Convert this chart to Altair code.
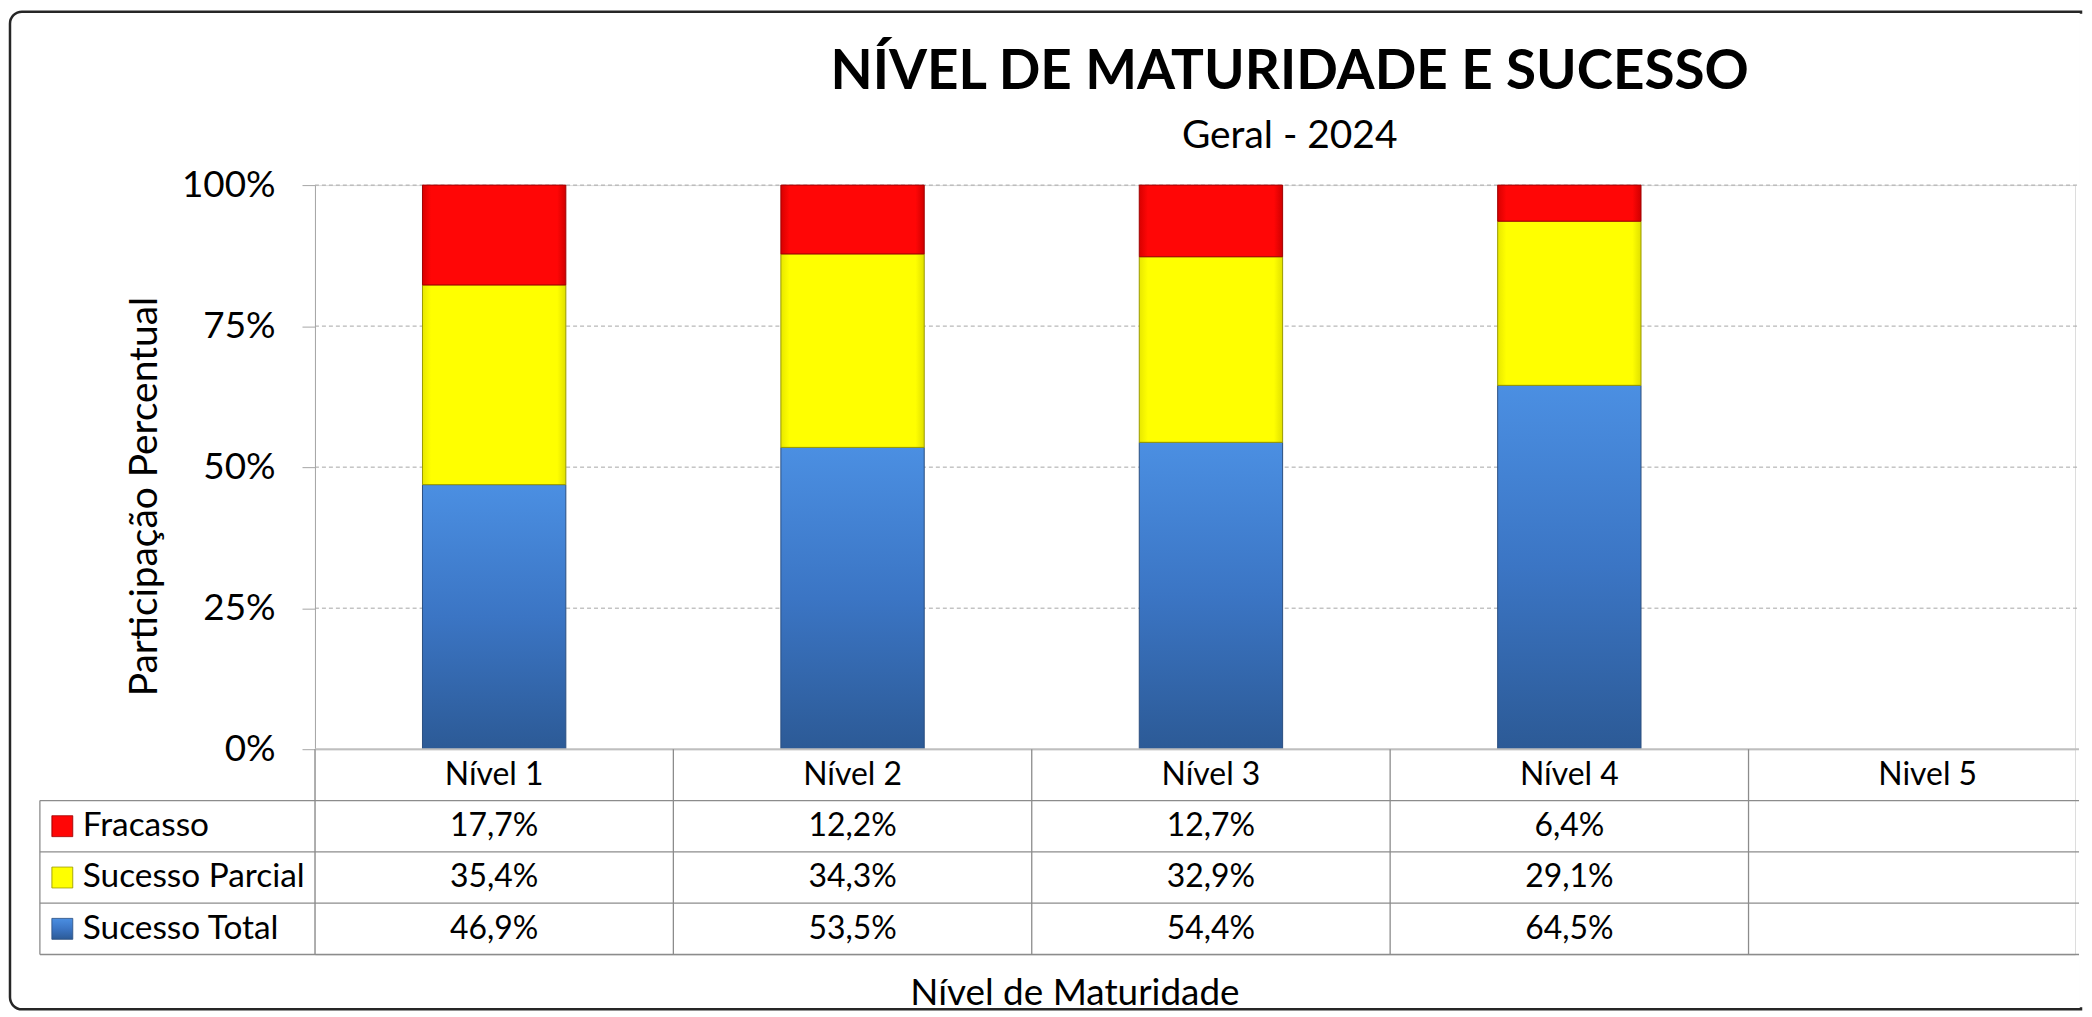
import altair as alt
import pandas as pd

# ---------------- data ----------------
levels = ["Nível 1", "Nível 2", "Nível 3", "Nível 4", "Nivel 5"]
series = ["Fracasso", "Sucesso Parcial", "Sucesso Total"]
fracasso = [17.7, 12.2, 12.7, 6.4, None]
sucesso_parcial = [35.4, 34.3, 32.9, 29.1, None]
sucesso_total = [46.9, 53.5, 54.4, 64.5, None]
y_ticks = [0, 25, 50, 75, 100]

title_text = "NÍVEL DE MATURIDADE E SUCESSO"
subtitle_text = "Geral - 2024"
y_title = "Participação Percentual"
x_title = "Nível de Maturidade"

# ---------------- layout (pixels) ----------------
FONT = "Lato"
COL = 359.6          # width of one category column
PLOT_W = 1766
BAR_H = 566
ROW_H = 51.5
N_ROWS = 4
TABLE_H = ROW_H * N_ROWS
LABEL_COL = 276      # legend column left of the plot
RIGHT_EXT = 6        # frame reaches this far right of the plot
X_MIN = 0.5
X_MAX = X_MIN + PLOT_W / COL
BAR_FRAC = 0.4
GRID = "#a6a6a6"
TLINE = "#8c8c8c"


def xu(px):
    """pixel offset from plot's left edge -> x scale units"""
    return X_MIN + px / COL


rows = []
for i, lv in enumerate(levels):
    for s, vals in zip(series, [fracasso, sucesso_parcial, sucesso_total]):
        rows.append({"level": lv, "idx": i + 1, "series": s, "value": vals[i]})
df = pd.DataFrame(rows)
lev_df = pd.DataFrame({"level": levels, "idx": list(range(1, len(levels) + 1))})
ser_df = pd.DataFrame({"series": series})
tick_df = pd.DataFrame({"v": y_ticks})

series_js = "['" + "','".join(series) + "']"

xscale = alt.Scale(domain=[X_MIN, X_MAX], nice=False, zero=False)
yscale = alt.Scale(domain=[0, 100], nice=False)
tscale = alt.Scale(domain=[0, N_ROWS], nice=False, zero=False, reverse=True)

blue = alt.LinearGradient(
    gradient="linear",
    stops=[alt.GradientStop(color="#4b8fe2", offset=0),
           alt.GradientStop(color="#3b75c4", offset=0.5),
           alt.GradientStop(color="#2c5a96", offset=1)],
    x1=0, x2=0, y1=0, y2=1)
red = alt.LinearGradient(
    gradient="linear",
    stops=[alt.GradientStop(color="#d80000", offset=0),
           alt.GradientStop(color="#ff0606", offset=0.06),
           alt.GradientStop(color="#ff0606", offset=0.94),
           alt.GradientStop(color="#d00000", offset=1)],
    x1=0, x2=1, y1=0, y2=0)
yellow = alt.LinearGradient(
    gradient="linear",
    stops=[alt.GradientStop(color="#e8e800", offset=0),
           alt.GradientStop(color="#ffff00", offset=0.06),
           alt.GradientStop(color="#ffff00", offset=0.94),
           alt.GradientStop(color="#e0e000", offset=1)],
    x1=0, x2=1, y1=0, y2=0)
fills = {"Fracasso": (red, "#a00000"),
         "Sucesso Parcial": (yellow, "#9a9a00"),
         "Sucesso Total": (blue, "#2a4e7f")}

# ---------------- bar chart ----------------
yaxis = alt.Axis(values=y_ticks, labelExpr="datum.value + '%'",
                 labelFont=FONT, labelFontSize=37, labelColor="black",
                 labelPadding=27, tickSize=13, tickColor=GRID,
                 domainColor=GRID, grid=False,
                 title=y_title, titleFont=FONT, titleFontSize=39,
                 titleFontWeight="normal", titleColor="black", titlePadding=17,
                 titleY=312, titleAlign="center")

gridlines = alt.Chart(tick_df).transform_filter("datum.v > 0").transform_calculate(
    xa=f"{X_MIN}", xb=f"{xu(PLOT_W + RIGHT_EXT)}").mark_rule(
    color=GRID, strokeWidth=1, strokeDash=[4, 3]).encode(
    x=alt.X("xa:Q", scale=xscale, axis=None), x2="xb:Q",
    y=alt.Y("v:Q", scale=yscale, axis=yaxis))

bar_base = alt.Chart(df).transform_filter("isValid(datum.value)").transform_calculate(
    order="indexof(['Sucesso Total','Sucesso Parcial','Fracasso'], datum.series)",
    xa=f"datum.idx - {BAR_FRAC / 2}",
    xb=f"datum.idx + {BAR_FRAC / 2}",
).transform_stack(stack="value", groupby=["level"],
                  sort=[alt.SortField("order", order="ascending")], as_=["v0", "v1"])

bar_layers = []
for s in ["Sucesso Total", "Sucesso Parcial", "Fracasso"]:
    f, st = fills[s]
    bar_layers.append(
        bar_base.transform_filter(alt.datum.series == s)
        .mark_rect(fill=f, stroke=st, strokeWidth=1)
        .encode(x=alt.X("xa:Q", scale=xscale, axis=None), x2="xb:Q",
                y=alt.Y("v0:Q", scale=yscale, axis=yaxis), y2="v1:Q")
    )

title_mark = alt.Chart(pd.DataFrame({"t": [title_text]})).mark_text(
    font=FONT, fontSize=55, fontWeight="bold", color="black",
    align="center", baseline="alphabetic").encode(
    x=alt.value(978), y=alt.value(-96), text="t:N")
subtitle_mark = alt.Chart(pd.DataFrame({"t": [subtitle_text]})).mark_text(
    font=FONT, fontSize=39, color="black",
    align="center", baseline="alphabetic").encode(
    x=alt.value(978), y=alt.value(-37), text="t:N")

bars = alt.layer(gridlines, *bar_layers, title_mark, subtitle_mark).properties(
    width=PLOT_W, height=BAR_H)

# ---------------- data table ----------------
xaxis_t = alt.Axis(labels=False, ticks=False, domain=False, grid=False,
                   title=x_title, titleFont=FONT, titleFontSize=37,
                   titleFontWeight="normal", titleColor="black",
                   titleX=762, titleY=50, titleAlign="center",
                   titleBaseline="alphabetic")


def X(field):
    return alt.X(field, scale=xscale, axis=xaxis_t)


def Y(field):
    return alt.Y(field, scale=tscale, axis=None)


top_line = alt.Chart(pd.DataFrame({"y": [0]})).transform_calculate(
    xa=f"{X_MIN}", xb=f"{xu(PLOT_W + RIGHT_EXT)}").mark_rule(color="#bfbfbf", strokeWidth=2).encode(
    x=X("xa:Q"), x2="xb:Q", y=Y("y:Q"))

row_lines = alt.Chart(pd.DataFrame({"y": list(range(1, N_ROWS + 1))})).transform_calculate(
    xa=f"{xu(-LABEL_COL)}", xb=f"{xu(PLOT_W + RIGHT_EXT)}").mark_rule(color=TLINE, strokeWidth=1.3).encode(
    x=X("xa:Q"), x2="xb:Q", y=Y("y:Q"))

col_lines = alt.Chart(lev_df).transform_calculate(
    xa="datum.idx - 0.5", ya="0", yb=f"{N_ROWS}").mark_rule(color=TLINE, strokeWidth=1.3).encode(
    x=X("xa:Q"), y=Y("ya:Q"), y2="yb:Q")

left_border = alt.Chart(pd.DataFrame({"a": [0]})).transform_calculate(
    xa=f"{xu(-LABEL_COL)}", ya="1", yb=f"{N_ROWS}").mark_rule(color=TLINE, strokeWidth=1.3).encode(
    x=X("xa:Q"), y=Y("ya:Q"), y2="yb:Q")

header_txt = alt.Chart(lev_df).transform_calculate(ya="0.5").mark_text(
    font=FONT, fontSize=32, color="black", align="center", baseline="middle").encode(
    x=X("idx:Q"), y=Y("ya:Q"), text="level:N")

value_txt = alt.Chart(df).transform_filter("isValid(datum.value)").transform_calculate(
    ya=f"indexof({series_js}, datum.series) + 1.5",
    lbl="replace(format(datum.value, '.1f'), '.', ',') + '%'").mark_text(
    font=FONT, fontSize=32, color="black", align="center", baseline="middle").encode(
    x=X("idx:Q"), y=Y("ya:Q"), text="lbl:N")

label_txt = alt.Chart(ser_df).transform_calculate(
    ya=f"indexof({series_js}, datum.series) + 1.5", xa=f"{xu(-233)}").mark_text(
    font=FONT, fontSize=33.5, color="black", align="left", baseline="middle").encode(
    x=X("xa:Q"), y=Y("ya:Q"), text="series:N")

swatches = []
for s in series:
    f, st = fills[s]
    swatches.append(
        alt.Chart(ser_df).transform_filter(alt.datum.series == s).transform_calculate(
            ya=f"indexof({series_js}, datum.series) + 1.5", xa=f"{xu(-253.5)}")
        .mark_square(size=441, fill=f, stroke=st, strokeWidth=0.8, opacity=1, filled=True)
        .encode(x=X("xa:Q"), y=Y("ya:Q"))
    )

# decorative chart-area border (continues past the right edge, as in the original)
frame = alt.Chart(pd.DataFrame({"a": [0]})).mark_rect(
    fill="white", fillOpacity=0, stroke="#262626", strokeWidth=2.5,
    cornerRadiusTopLeft=12, cornerRadiusBottomLeft=12).encode(
    x=alt.value(-306), x2=alt.value(PLOT_W + RIGHT_EXT),
    y=alt.value(-740), y2=alt.value(261))
frame_cut = alt.Chart(pd.DataFrame({"a": [0]})).mark_rule(
    color="white", strokeWidth=4).encode(
    x=alt.value(PLOT_W + RIGHT_EXT), y=alt.value(-738), y2=alt.value(259))

table = alt.layer(top_line, row_lines, col_lines, left_border, header_txt, value_txt,
                  label_txt, *swatches, frame, frame_cut).properties(width=PLOT_W, height=TABLE_H)

chart = alt.vconcat(bars, table, spacing=0, bounds="flush").properties(
    padding={"left": 0, "top": 0, "right": 0, "bottom": 0}
).configure_view(stroke=None).configure(font=FONT)

chart.save("out.html", embed_options={"renderer": "svg", "actions": False})
